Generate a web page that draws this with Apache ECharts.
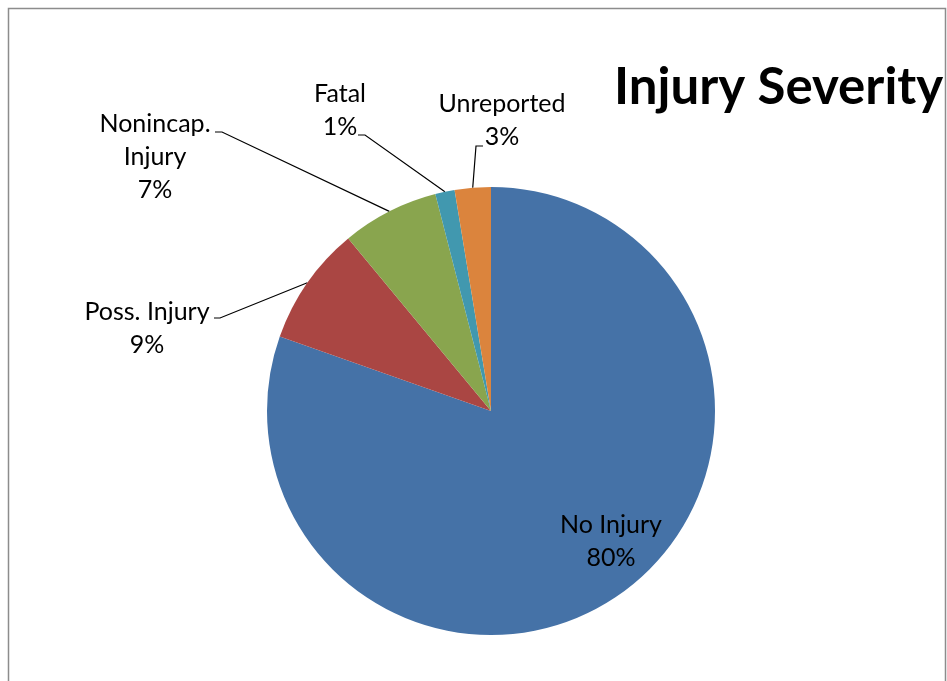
<!DOCTYPE html>
<html>
<head>
<meta charset="utf-8">
<script src="https://cdn.jsdelivr.net/npm/echarts@6/dist/echarts.min.js"></script>
<style>
html,body{margin:0;padding:0;background:#fff;}
#chart{width:947px;height:681px;}
</style>
</head>
<body>
<div id="chart"></div>
<script>
// Data
var categories = ['No Injury', 'Poss. Injury', 'Nonincap.\nInjury', 'Fatal', 'Unreported'];
var shares = [80.4, 8.6, 7.0, 1.4, 2.6];
var colors = ['#4572A7', '#AA4643', '#89A54E', '#4198AF', '#DB843D'];
var titleText = 'Injury Severity';

// Label placement (layout only)
var labelPos = [
  {x: 611, y: 541, line: null},
  {x: 147, y: 328, line: [[220, 318], [214, 318]]},
  {x: 155, y: 157, line: [[222, 132], [215, 132]]},
  {x: 340, y: 110, line: [[365, 135], [358, 135]]},
  {x: 502, y: 120, line: [[476, 146], [483, 146]]}
];

var chart = echarts.init(document.getElementById('chart'));
var fontFam = 'Lato, "Noto Sans", sans-serif';

chart.setOption({
  animation: false,
  backgroundColor: '#fff',
  graphic: [{
    type: 'rect',
    shape: {x: 8.5, y: 8.5, width: 937, height: 700},
    style: {fill: 'none', stroke: '#8c8c8c', lineWidth: 1.5},
    silent: true
  }],
  title: {
    text: titleText,
    left: 609,
    top: 57,
    textStyle: {fontFamily: fontFam, fontWeight: 'bold', fontSize: 51, color: '#000'}
  },
  series: [{
    type: 'pie',
    center: [491, 411],
    radius: [0, 224],
    startAngle: 90,
    clockwise: true,
    data: categories.map(function (c, i) {
      return {
        name: c,
        value: shares[i],
        itemStyle: {color: colors[i]},
        labelLine: {show: i !== 0}
      };
    }),
    itemStyle: {borderWidth: 0},
    label: {
      show: true,
      formatter: function (p) { return p.name + '\n' + Math.round(p.percent) + '%'; },
      fontFamily: fontFam,
      fontSize: 25,
      lineHeight: 33,
      color: '#000',
      align: 'center'
    },
    labelLine: {show: true, lineStyle: {color: '#000', width: 1.2}, length: 20, length2: 10},
    labelLayout: function (params) {
      var lp = labelPos[params.dataIndex];
      var r = {x: lp.x, y: lp.y, align: 'center', verticalAlign: 'middle'};
      if (lp.line && params.labelLinePoints) {
        r.labelLinePoints = [params.labelLinePoints[0], lp.line[0], lp.line[1]];
      }
      return r;
    }
  }]
});
</script>
</body>
</html>
